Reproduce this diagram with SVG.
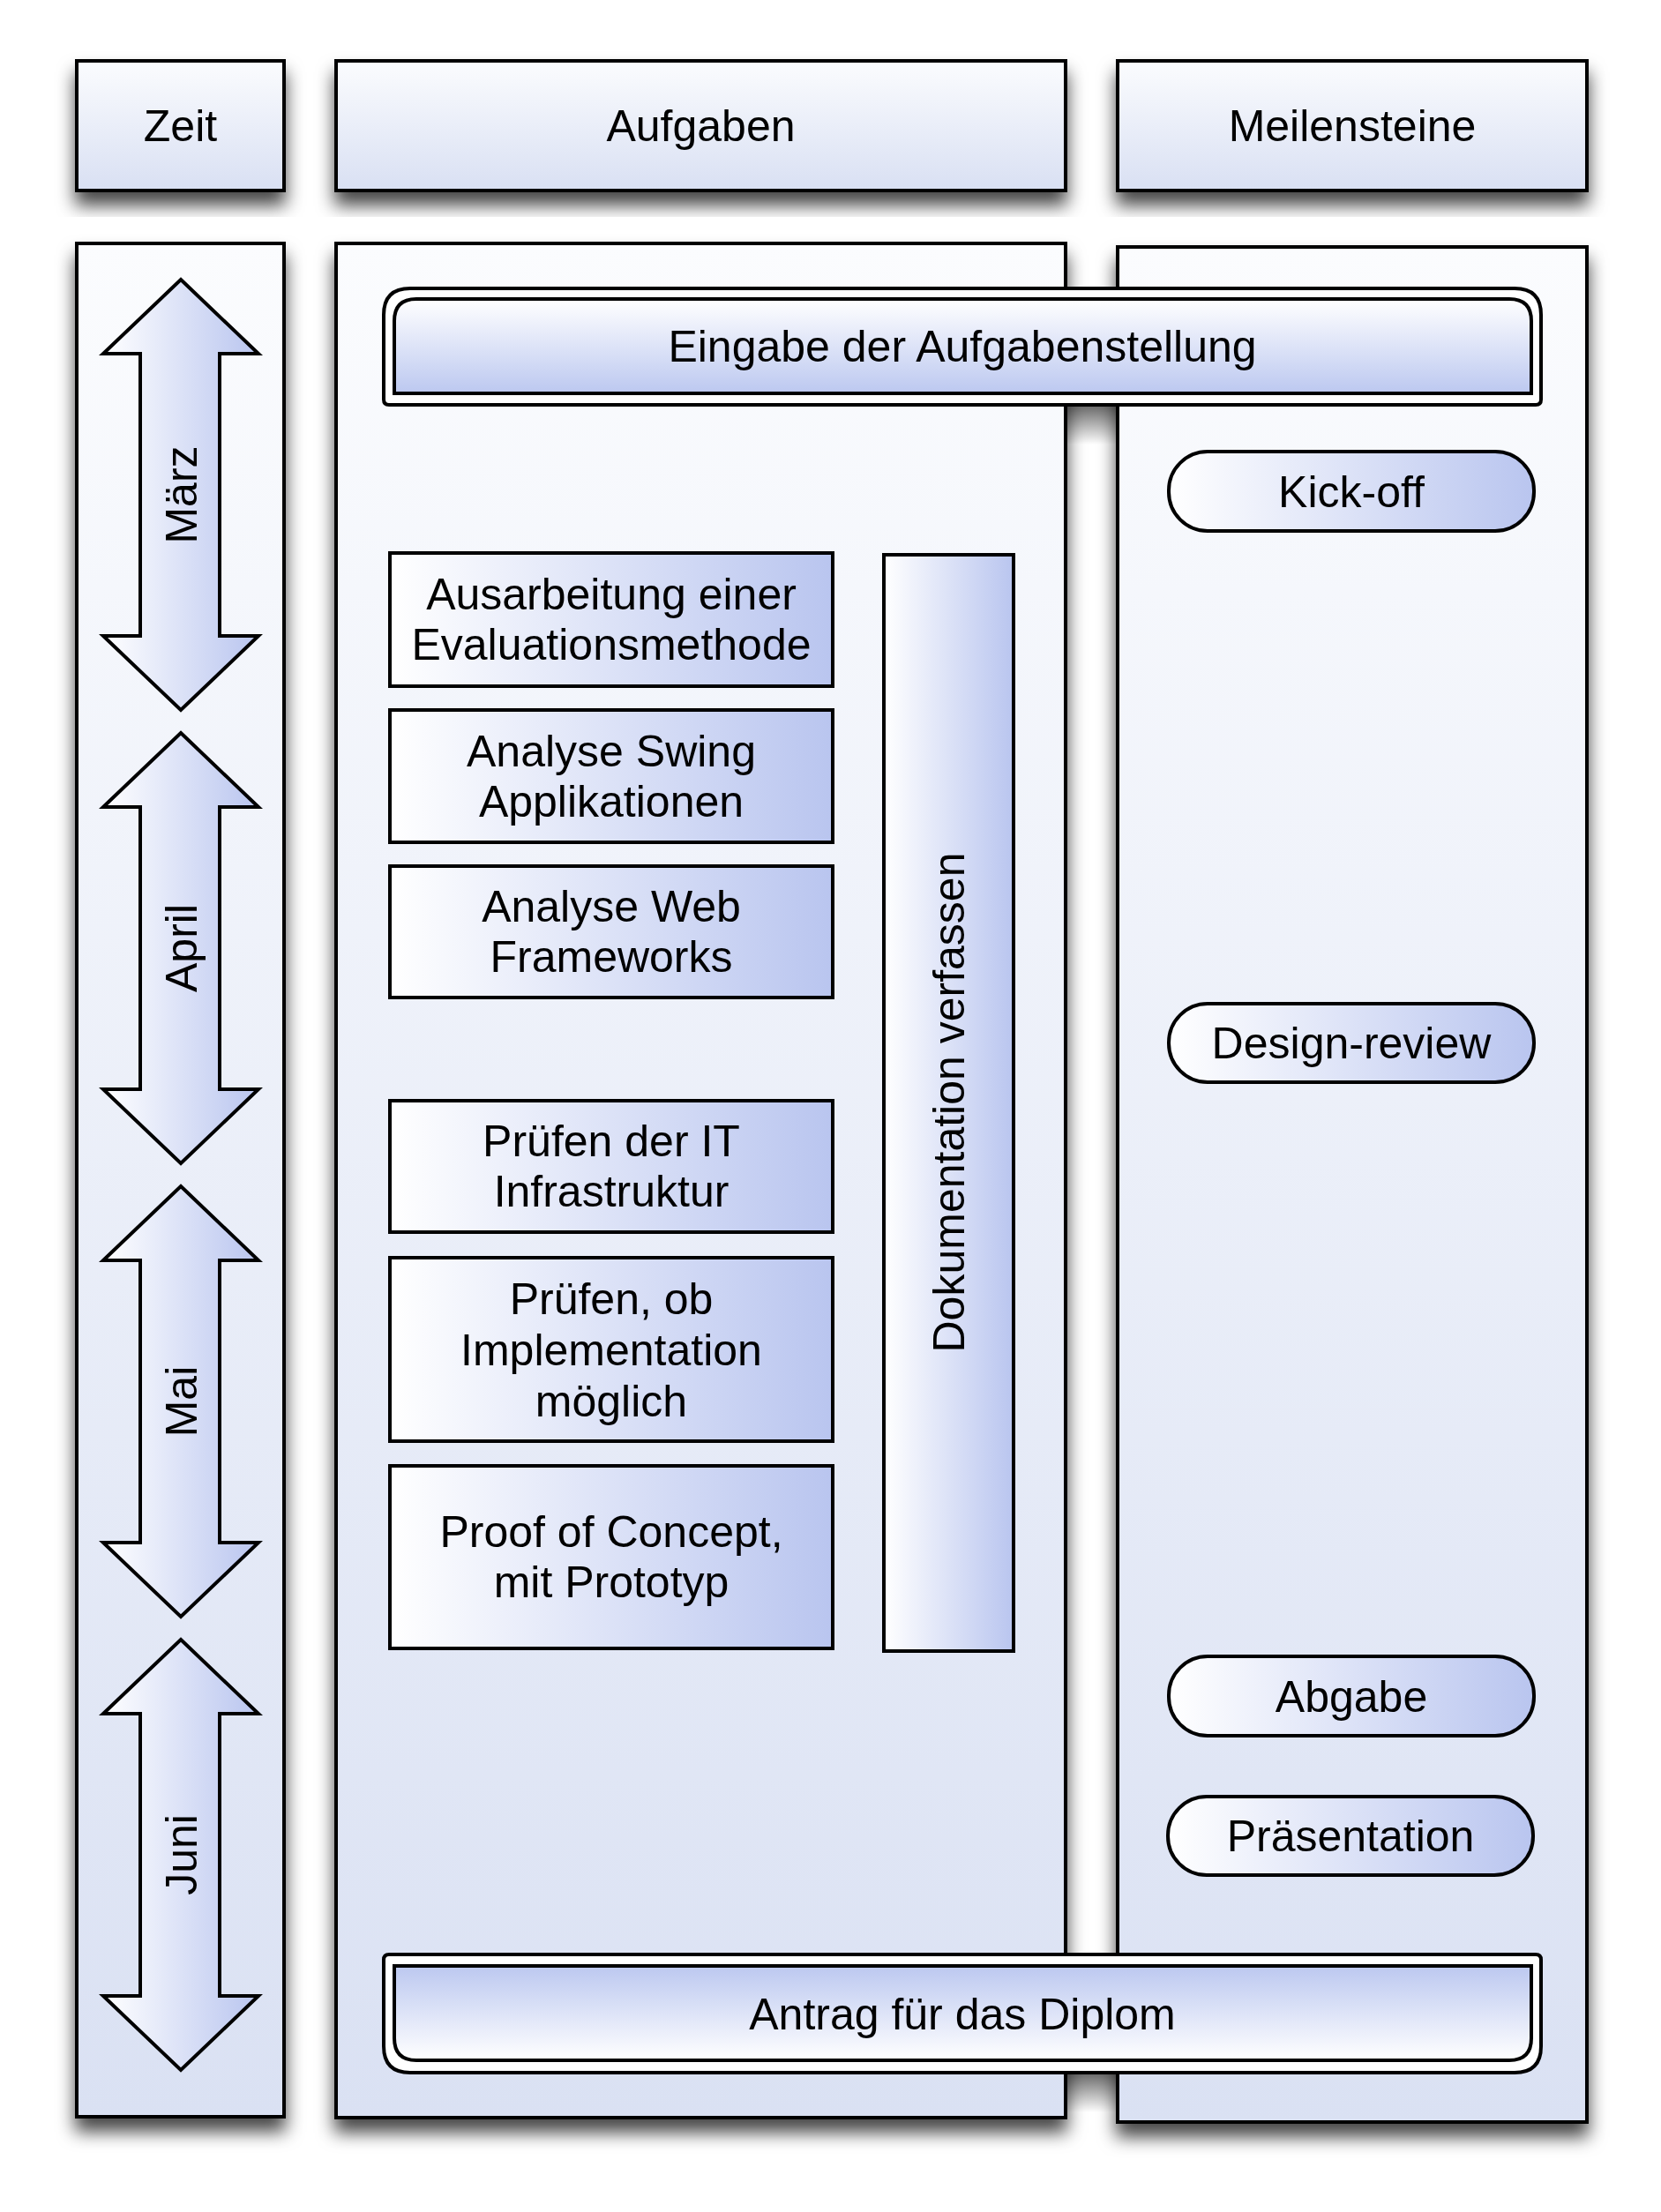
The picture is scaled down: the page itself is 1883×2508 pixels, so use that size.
<svg xmlns="http://www.w3.org/2000/svg" width="1883" height="2508" viewBox="0 0 1883 2508">
<defs>
<linearGradient id="gV" x1="0" y1="0" x2="0" y2="1"><stop offset="0" stop-color="#fbfcfe"/><stop offset="1" stop-color="#d9e0f3"/></linearGradient>
<linearGradient id="gCol" x1="0" y1="0" x2="0" y2="1"><stop offset="0" stop-color="#fbfcfe"/><stop offset="1" stop-color="#dae1f3"/></linearGradient>
<linearGradient id="gH" x1="0" y1="0" x2="1" y2="0"><stop offset="0" stop-color="#ffffff"/><stop offset="1" stop-color="#b9c5ef"/></linearGradient>
<linearGradient id="gTop" x1="0" y1="0" x2="0" y2="1"><stop offset="0" stop-color="#ffffff"/><stop offset="1" stop-color="#bcc8f0"/></linearGradient>
<linearGradient id="gBot" x1="0" y1="1" x2="0" y2="0"><stop offset="0" stop-color="#ffffff"/><stop offset="1" stop-color="#bcc8f0"/></linearGradient>
<linearGradient id="gShade" x1="0" y1="0" x2="0" y2="1"><stop offset="0" stop-color="#000" stop-opacity="0.6"/><stop offset="1" stop-color="#000" stop-opacity="0"/></linearGradient>
<filter id="sh" x="-20%" y="-20%" width="140%" height="140%"><feDropShadow dx="0" dy="15" stdDeviation="10" flood-color="#000" flood-opacity="0.72"/></filter>
</defs>
<style>
.box{stroke:#000;stroke-width:4}
.hdr{fill:url(#gV)}
.col{fill:url(#gCol)}
.task{fill:url(#gH)}
.arr{fill:url(#gH);stroke:#000;stroke-width:4;stroke-linejoin:miter}
.t{font-family:"Liberation Sans",Arial,sans-serif;font-size:50px;fill:#000;text-anchor:middle}
</style>
<rect width="1883" height="2508" fill="#fff"/>

<g id="hdr-zeit" filter="url(#sh)"><rect class="box hdr" x="87" y="69" width="235" height="147"/><text class="t" x="204.5" y="160">Zeit</text></g>
<g id="hdr-aufgaben" filter="url(#sh)"><rect class="box hdr" x="381" y="69" width="827" height="147"/><text class="t" x="794.5" y="160">Aufgaben</text></g>
<g id="hdr-meilensteine" filter="url(#sh)"><rect class="box hdr" x="1267" y="69" width="532" height="147"/><text class="t" x="1533" y="160">Meilensteine</text></g>

<g id="col-zeit" filter="url(#sh)"><rect class="box col" x="87" y="276" width="235" height="2124"/></g>
<g id="col-aufgaben" filter="url(#sh)"><rect class="box col" x="381" y="276" width="827" height="2125"/></g>
<g id="col-meilensteine" filter="url(#sh)"><rect class="box col" x="1267" y="280" width="532" height="2126"/></g>

<g id="m-maerz"><path class="arr" d="M205,317 L293,401 L249,401 L249,721 L293,721 L205,805 L117,721 L159,721 L159,401 L117,401 Z"/><text class="t" transform="translate(223,561) rotate(-90)">März</text></g>
<g id="m-april"><path class="arr" d="M205,831 L293,915 L249,915 L249,1235 L293,1235 L205,1319 L117,1235 L159,1235 L159,915 L117,915 Z"/><text class="t" transform="translate(223,1075) rotate(-90)">April</text></g>
<g id="m-mai"><path class="arr" d="M205,1345 L293,1429 L249,1429 L249,1749 L293,1749 L205,1833 L117,1749 L159,1749 L159,1429 L117,1429 Z"/><text class="t" transform="translate(223,1589) rotate(-90)">Mai</text></g>
<g id="m-juni"><path class="arr" d="M205,1859 L293,1943 L249,1943 L249,2263 L293,2263 L205,2347 L117,2263 L159,2263 L159,1943 L117,1943 Z"/><text class="t" transform="translate(223,2103) rotate(-90)">Juni</text></g>

<g id="eingabe">
<rect x="1210" y="459" width="55" height="45" fill="url(#gShade)"/>
<path class="box" fill="#fff" d="M441,459 Q435,459 435,453 L435,357 Q435,327 465,327 L1717,327 Q1747,327 1747,357 L1747,453 Q1747,459 1741,459 Z"/>
<path class="box" fill="url(#gTop)" d="M447,446 L447,364 Q447,339 472,339 L1711,339 Q1736,339 1736,364 L1736,446 Z"/>
<text class="t" x="1091" y="410">Eingabe der Aufgabenstellung</text>
</g>

<g id="t1"><rect class="box task" x="442" y="627" width="502" height="151"/><text class="t" x="693" y="691">Ausarbeitung einer</text><text class="t" x="693" y="748">Evaluationsmethode</text></g>
<g id="t2"><rect class="box task" x="442" y="805" width="502" height="150"/><text class="t" x="693" y="869">Analyse Swing</text><text class="t" x="693" y="926">Applikationen</text></g>
<g id="t3"><rect class="box task" x="442" y="982" width="502" height="149"/><text class="t" x="693" y="1045">Analyse Web</text><text class="t" x="693" y="1102">Frameworks</text></g>
<g id="t4"><rect class="box task" x="442" y="1248" width="502" height="149"/><text class="t" x="693" y="1311">Prüfen der IT</text><text class="t" x="693" y="1368">Infrastruktur</text></g>
<g id="t5"><rect class="box task" x="442" y="1426" width="502" height="208"/><text class="t" x="693" y="1490">Prüfen, ob</text><text class="t" x="693" y="1548">Implementation</text><text class="t" x="693" y="1606">möglich</text></g>
<g id="t6"><rect class="box task" x="442" y="1662" width="502" height="207"/><text class="t" x="693" y="1754">Proof of Concept,</text><text class="t" x="693" y="1811">mit Prototyp</text></g>
<g id="doku"><rect class="box task" x="1002" y="629" width="147" height="1243"/><text class="t" transform="translate(1093,1250) rotate(-90)">Dokumentation verfassen</text></g>

<g id="kickoff"><rect class="box task" x="1325" y="512" width="414" height="90" rx="44"/><text class="t" x="1532" y="575">Kick-off</text></g>
<g id="designreview"><rect class="box task" x="1325" y="1138" width="414" height="89" rx="44"/><text class="t" x="1532" y="1200">Design-review</text></g>
<g id="abgabe"><rect class="box task" x="1325" y="1878" width="414" height="90" rx="44"/><text class="t" x="1532" y="1941">Abgabe</text></g>
<g id="praesentation"><rect class="box task" x="1324" y="2037" width="414" height="89" rx="44"/><text class="t" x="1531" y="2099">Präsentation</text></g>

<g id="antrag">
<rect x="1210" y="2350" width="55" height="45" fill="url(#gShade)"/>
<path class="box" fill="#fff" d="M441,2216 Q435,2216 435,2222 L435,2320 Q435,2350 465,2350 L1717,2350 Q1747,2350 1747,2320 L1747,2222 Q1747,2216 1741,2216 Z"/>
<path class="box" fill="url(#gBot)" d="M447,2229 L447,2311 Q447,2336 472,2336 L1711,2336 Q1736,2336 1736,2311 L1736,2229 Z"/>
<text class="t" x="1091" y="2301">Antrag für das Diplom</text>
</g>
<g id="connectors"/>
</svg>
